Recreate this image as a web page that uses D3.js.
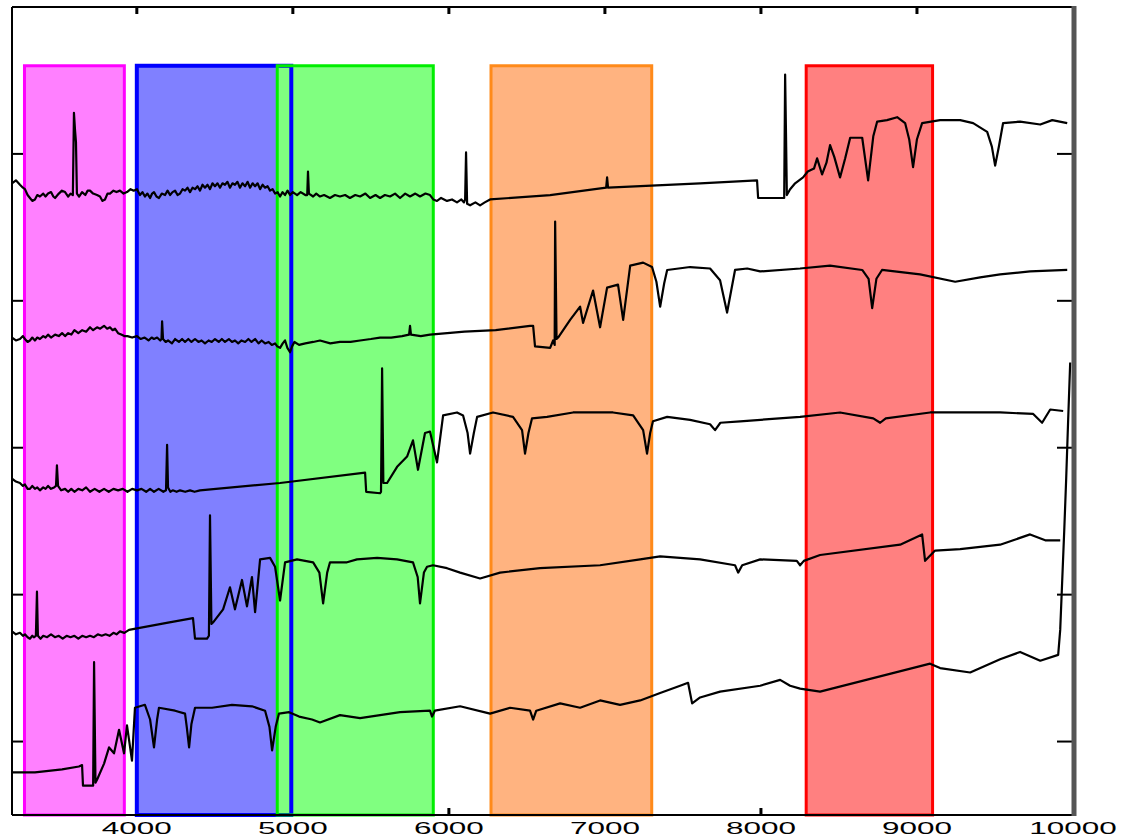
<!DOCTYPE html>
<html>
<head>
<meta charset="utf-8">
<script src="https://cdn.jsdelivr.net/npm/d3@7"></script>
<style>
html,body{margin:0;padding:0;background:#fff;}
svg{display:block;}
</style>
</head>
<body>
<svg id="chart" width="1121" height="839"></svg>
<script>
// ---------- data ----------
const xTicks = [4000, 5000, 6000, 7000, 8000, 9000, 10000];
const yTicks = [1, 2, 3, 4, 5];

const bandStarts = [3280, 4000, 4900, 6270, 8290];
const bandEnds   = [3920, 4990, 5900, 7300, 9100];
const bandTop = 5.6;

const spectrum1 = [
[3200,4.80],[3225,4.82],[3251,4.79],[3270,4.77],[3283,4.76],[3300,4.72],[3315,4.70],[3330,4.68],
[3347,4.69],[3362,4.72],[3379,4.71],[3400,4.73],[3415,4.71],[3431,4.73],[3450,4.74],[3465,4.71],
[3476,4.70],[3500,4.73],[3520,4.75],[3540,4.74],[3560,4.71],[3575,4.73],[3590,4.72],[3597,5.28],
[3604,5.16],[3610,5.08],[3616,4.73],[3630,4.71],[3649,4.74],[3670,4.72],[3685,4.75],[3700,4.75],
[3720,4.73],[3745,4.72],[3764,4.71],[3780,4.68],[3796,4.69],[3812,4.73],[3828,4.73],[3850,4.75],
[3870,4.74],[3892,4.75],[3915,4.73],[3937,4.74],[3960,4.76],[3980,4.75],[4001,4.76],[4020,4.72],
[4036,4.74],[4052,4.71],[4068,4.73],[4085,4.70],[4098,4.73],[4110,4.74],[4126,4.71],[4142,4.70],
[4160,4.73],[4181,4.72],[4197,4.75],[4213,4.72],[4229,4.74],[4245,4.75],[4261,4.72],[4277,4.73],
[4293,4.76],[4309,4.75],[4325,4.77],[4341,4.74],[4357,4.77],[4373,4.76],[4389,4.78],[4405,4.75],
[4421,4.79],[4437,4.77],[4453,4.79],[4469,4.76],[4485,4.80],[4501,4.78],[4517,4.80],[4533,4.77],
[4549,4.80],[4565,4.79],[4581,4.81],[4597,4.77],[4613,4.80],[4629,4.79],[4645,4.81],[4661,4.77],
[4677,4.80],[4694,4.78],[4710,4.81],[4726,4.77],[4742,4.80],[4758,4.78],[4774,4.80],[4790,4.76],
[4806,4.79],[4822,4.77],[4838,4.78],[4854,4.75],[4870,4.76],[4886,4.73],[4902,4.74],[4918,4.71],
[4934,4.74],[4950,4.72],[4966,4.75],[4982,4.72],[5000,4.74],[5027,4.72],[5050,4.74],[5080,4.72],
[5092,4.72],[5097,4.88],[5103,4.73],[5130,4.71],[5150,4.73],[5174,4.71],[5200,4.72],[5238,4.70],
[5270,4.72],[5302,4.71],[5335,4.72],[5366,4.70],[5400,4.72],[5431,4.71],[5465,4.73],[5495,4.70],
[5530,4.72],[5559,4.70],[5590,4.72],[5623,4.71],[5655,4.73],[5687,4.70],[5720,4.73],[5751,4.71],
[5785,4.73],[5815,4.71],[5850,4.73],[5879,4.72],[5900,4.69],[5924,4.68],[5950,4.70],[5988,4.68],
[6020,4.69],[6052,4.67],[6080,4.69],[6097,4.67],[6104,4.69],[6110,5.01],[6117,4.66],[6136,4.65],
[6170,4.67],[6200,4.65],[6230,4.67],[6264,4.69],[6649,4.72],[7008,4.77],[7014,4.84],[7020,4.77],
[7610,4.80],[7975,4.82],[7982,4.70],[8123,4.70],[8149,4.70],[8155,5.54],[8161,5.11],[8166,4.72],
[8187,4.76],[8219,4.80],[8270,4.84],[8300,4.88],[8340,4.90],[8360,4.97],[8392,4.86],[8420,4.94],
[8443,5.06],[8470,4.98],[8507,4.84],[8540,4.97],[8572,5.11],[8649,5.11],[8687,4.82],[8720,5.12],
[8745,5.22],[8808,5.23],[8873,5.25],[8924,5.21],[8950,5.10],[8975,4.91],[9000,5.10],[9033,5.21],
[9148,5.23],[9277,5.23],[9360,5.21],[9450,5.15],[9480,5.05],[9501,4.92],[9525,5.05],[9552,5.21],
[9661,5.22],[9790,5.20],[9867,5.23],[9963,5.21]
];

const spectrum2 = [
[3200,3.75],[3225,3.73],[3251,3.74],[3270,3.76],[3283,3.74],[3300,3.72],[3315,3.73],[3330,3.75],
[3347,3.73],[3362,3.75],[3379,3.74],[3400,3.76],[3415,3.75],[3431,3.77],[3450,3.75],[3476,3.77],
[3500,3.76],[3521,3.78],[3540,3.76],[3560,3.78],[3580,3.77],[3600,3.80],[3625,3.78],[3650,3.80],
[3675,3.79],[3700,3.82],[3720,3.80],[3745,3.82],[3765,3.81],[3790,3.83],[3810,3.81],[3828,3.82],
[3845,3.80],[3860,3.81],[3880,3.78],[3900,3.77],[3920,3.76],[3940,3.76],[3970,3.75],[4001,3.76],
[4025,3.74],[4050,3.75],[4075,3.73],[4095,3.75],[4110,3.74],[4130,3.75],[4150,3.73],[4158,3.74],
[4162,3.86],[4168,3.74],[4185,3.72],[4200,3.73],[4225,3.71],[4245,3.74],[4270,3.72],[4290,3.74],
[4309,3.72],[4330,3.74],[4350,3.72],[4373,3.74],[4395,3.72],[4415,3.73],[4437,3.71],[4460,3.73],
[4480,3.72],[4501,3.74],[4525,3.72],[4545,3.74],[4565,3.72],[4590,3.74],[4610,3.72],[4629,3.73],
[4650,3.71],[4670,3.73],[4694,3.72],[4715,3.74],[4735,3.72],[4758,3.74],[4780,3.71],[4800,3.73],
[4822,3.71],[4845,3.72],[4865,3.70],[4886,3.71],[4900,3.69],[4918,3.68],[4935,3.71],[4950,3.73],
[4965,3.68],[4982,3.65],[4995,3.69],[5010,3.72],[5040,3.70],[5080,3.71],[5130,3.72],[5174,3.73],
[5240,3.71],[5302,3.72],[5370,3.72],[5431,3.73],[5500,3.74],[5559,3.75],[5630,3.75],[5700,3.76],
[5745,3.77],[5751,3.83],[5757,3.77],[5820,3.76],[5879,3.77],[6100,3.79],[6300,3.80],[6520,3.83],
[6540,3.83],[6552,3.69],[6649,3.68],[6668,3.73],[6678,3.70],[6681,4.54],[6690,3.74],[6700,3.75],
[6777,3.87],[6841,3.96],[6860,3.85],[6924,4.07],[6969,3.82],[7014,4.09],[7084,4.11],[7117,3.87],
[7162,4.24],[7245,4.26],[7302,4.23],[7330,4.13],[7354,3.96],[7380,4.12],[7399,4.21],[7546,4.23],
[7674,4.22],[7738,4.14],[7783,3.92],[7834,4.21],[7912,4.22],[7995,4.20],[8251,4.22],[8443,4.24],
[8649,4.21],[8690,4.15],[8713,3.95],[8740,4.15],[8776,4.21],[9020,4.18],[9245,4.13],[9405,4.16],
[9533,4.18],[9725,4.20],[9963,4.21]
];

const spectrum3 = [
[3200,2.79],[3225,2.77],[3251,2.76],[3270,2.74],[3283,2.75],[3300,2.72],[3315,2.72],[3330,2.74],
[3347,2.72],[3362,2.73],[3379,2.71],[3400,2.73],[3415,2.72],[3431,2.74],[3450,2.72],[3470,2.73],
[3482,2.74],[3488,2.88],[3495,2.74],[3515,2.71],[3540,2.72],[3560,2.70],[3580,2.72],[3600,2.70],
[3625,2.72],[3650,2.71],[3675,2.73],[3700,2.70],[3730,2.72],[3760,2.70],[3790,2.72],[3820,2.70],
[3850,2.72],[3880,2.71],[3910,2.72],[3940,2.70],[3970,2.72],[4001,2.71],[4030,2.72],[4060,2.70],
[4085,2.72],[4110,2.70],[4140,2.72],[4170,2.70],[4187,2.71],[4194,3.02],[4200,2.73],[4215,2.70],
[4230,2.71],[4255,2.70],[4277,2.71],[4310,2.70],[4341,2.71],[4370,2.70],[4405,2.71],[4918,2.76],
[5463,2.83],[5470,2.70],[5559,2.69],[5565,2.70],[5572,3.54],[5580,2.76],[5604,2.76],[5668,2.87],
[5732,2.94],[5770,3.05],[5802,2.85],[5847,3.10],[5879,3.11],[5924,2.90],[5963,3.22],[6052,3.24],
[6091,3.22],[6120,3.10],[6136,2.96],[6160,3.10],[6181,3.21],[6283,3.24],[6411,3.21],[6469,3.12],
[6488,2.96],[6510,3.10],[6533,3.20],[6629,3.21],[6796,3.24],[6905,3.24],[7052,3.24],[7181,3.22],
[7245,3.12],[7270,2.96],[7290,3.10],[7308,3.18],[7399,3.21],[7546,3.19],[7674,3.16],[7706,3.12],
[7740,3.17],[7867,3.18],[8251,3.21],[8507,3.24],[8720,3.20],[8764,3.17],[8800,3.20],[9084,3.24],
[9533,3.24],[9745,3.23],[9802,3.17],[9854,3.26],[9937,3.25]
];

const spectrum4 = [
[3200,1.75],[3225,1.73],[3251,1.74],[3270,1.72],[3283,1.73],[3300,1.71],[3315,1.70],[3330,1.72],
[3340,1.71],[3353,1.72],[3360,2.02],[3366,1.72],[3383,1.70],[3400,1.72],[3425,1.71],[3450,1.73],
[3475,1.71],[3500,1.72],[3525,1.70],[3550,1.72],[3575,1.71],[3600,1.72],[3625,1.70],[3650,1.72],
[3675,1.71],[3700,1.72],[3725,1.71],[3750,1.73],[3775,1.72],[3800,1.73],[3825,1.72],[3850,1.74],
[3870,1.73],[3892,1.75],[3920,1.74],[3950,1.76],[4001,1.77],[4200,1.81],[4360,1.84],[4373,1.70],
[4450,1.70],[4462,1.72],[4469,2.54],[4478,1.80],[4488,1.81],[4553,1.90],[4597,2.05],[4629,1.90],
[4674,2.10],[4706,1.92],[4738,2.12],[4758,1.88],[4790,2.24],[4854,2.25],[4886,2.19],[4918,1.96],
[4950,2.22],[5027,2.24],[5130,2.22],[5170,2.15],[5194,1.94],[5220,2.15],[5238,2.22],[5347,2.22],
[5411,2.24],[5540,2.25],[5668,2.24],[5770,2.22],[5800,2.12],[5815,1.94],[5840,2.15],[5860,2.19],
[5898,2.20],[5988,2.18],[6072,2.15],[6200,2.11],[6328,2.15],[6584,2.18],[6969,2.20],[7226,2.24],
[7354,2.26],[7610,2.24],[7834,2.20],[7854,2.15],[7880,2.20],[7995,2.24],[8230,2.23],[8251,2.20],
[8275,2.23],[8379,2.27],[8892,2.34],[9033,2.41],[9052,2.23],[9116,2.30],[9277,2.31],[9533,2.34],
[9725,2.41],[9822,2.37],[9918,2.37]
];

const spectrum5 = [
[3200,0.79],[3347,0.79],[3521,0.81],[3629,0.83],[3649,0.84],[3655,0.70],[3720,0.70],[3726,1.54],
[3735,0.72],[3745,0.74],[3790,0.85],[3822,0.96],[3854,0.92],[3886,1.08],[3918,0.92],[3937,1.11],
[3969,0.87],[3988,1.23],[4052,1.25],[4085,1.15],[4110,0.96],[4130,1.15],[4142,1.23],[4245,1.21],
[4309,1.19],[4320,1.10],[4335,0.96],[4350,1.12],[4373,1.23],[4482,1.23],[4610,1.25],[4738,1.24],
[4822,1.21],[4850,1.10],[4867,0.94],[4890,1.10],[4911,1.19],[4976,1.20],[5040,1.17],[5123,1.15],
[5174,1.13],[5302,1.18],[5431,1.16],[5687,1.20],[5879,1.21],[5892,1.17],[5910,1.21],[6072,1.24],
[6264,1.19],[6392,1.23],[6520,1.21],[6540,1.15],[6560,1.21],[6713,1.26],[6841,1.23],[6969,1.28],
[7097,1.25],[7226,1.28],[7354,1.33],[7482,1.38],[7533,1.40],[7559,1.26],[7610,1.30],[7738,1.34],
[7995,1.38],[8123,1.42],[8187,1.38],[8251,1.36],[8379,1.34],[9084,1.53],[9148,1.50],[9341,1.47],
[9533,1.56],[9661,1.61],[9790,1.55],[9905,1.59],[9918,1.76],[9931,2.10],[9944,2.44],[9956,2.78],
[9969,3.19],[9982,3.58]
];

// ---------- styles ----------
const bandFills   = ["#ff80ff", "#8080ff", "#80ff80", "#ffb380", "#ff8080"];
const bandStrokes = ["#ff00ff", "#0000ff", "#00ee00", "#ff8a1a", "#ff0000"];

// ---------- drawing ----------
const svg = d3.select("#chart");
const x = d3.scaleLinear().domain([3200, 10000]).range([12, 1073]);
const y = d3.scaleLinear().domain([0.5, 6]).range([815, 7]);

// ticks (under bands)
const tickG = svg.append("g").attr("stroke", "#000").attr("stroke-width", 2);
tickG.selectAll("line.yl").data(yTicks).join("line")
  .attr("x1", x(3200)).attr("x2", x(3200) + 16)
  .attr("y1", d => y(d)).attr("y2", d => y(d));
tickG.selectAll("line.yr").data(yTicks).join("line")
  .attr("x1", x(10000) - 16).attr("x2", x(10000))
  .attr("y1", d => y(d)).attr("y2", d => y(d));
tickG.selectAll("line.xt").data(xTicks.slice(0, -1)).join("line")
  .attr("x1", d => x(d)).attr("x2", d => x(d))
  .attr("y1", y(6)).attr("y2", y(6) + 7).attr("stroke-width", 3);
tickG.selectAll("line.xb").data(xTicks.slice(0, -1)).join("line")
  .attr("x1", d => x(d)).attr("x2", d => x(d))
  .attr("y1", y(0.5)).attr("y2", y(0.5) - 7).attr("stroke-width", 3);

// band fills
const bandIdx = d3.range(bandStarts.length);
svg.append("g").selectAll("rect").data(bandIdx).join("rect")
  .attr("x", i => x(bandStarts[i]))
  .attr("y", y(bandTop))
  .attr("width", i => x(bandEnds[i]) - x(bandStarts[i]))
  .attr("height", y(0.5) - y(bandTop))
  .attr("fill", i => bandFills[i]);
// band outlines
svg.append("g").selectAll("rect").data(bandIdx).join("rect")
  .attr("x", i => x(bandStarts[i]))
  .attr("y", y(bandTop))
  .attr("width", i => x(bandEnds[i]) - x(bandStarts[i]))
  .attr("height", y(0.5) - y(bandTop))
  .attr("fill", "none")
  .attr("stroke", i => bandStrokes[i])
  .attr("stroke-width", i => i === 1 ? 4 : 3);

// spectra
const line = d3.line().x(d => x(d[0])).y(d => y(d[1]));
const spectra = [spectrum1, spectrum2, spectrum3, spectrum4, spectrum5];
svg.append("g").selectAll("path").data(spectra).join("path")
  .attr("d", line)
  .attr("fill", "none")
  .attr("stroke", "#000")
  .attr("stroke-width", 2.2)
  .attr("stroke-linejoin", "round");

// frame
svg.append("line").attr("x1", x(3200)).attr("x2", x(3200)).attr("y1", y(6)).attr("y2", y(0.5))
  .attr("stroke", "#000").attr("stroke-width", 2);
svg.append("line").attr("x1", x(3200)).attr("x2", x(10000)).attr("y1", y(6)).attr("y2", y(6))
  .attr("stroke", "#000").attr("stroke-width", 2);
svg.append("line").attr("x1", x(3200)).attr("x2", x(10000)).attr("y1", y(0.5)).attr("y2", y(0.5))
  .attr("stroke", "#000").attr("stroke-width", 2);
svg.append("line").attr("x1", x(10000) + 1).attr("x2", x(10000) + 1).attr("y1", y(6) - 1).attr("y2", y(0.5) + 1)
  .attr("stroke", "#555").attr("stroke-width", 5);

// tick labels (horizontally stretched like the reference)
svg.append("g").selectAll("text").data(xTicks).join("text")
  .attr("transform", d => `translate(${x(d)},834) scale(1.85,1)`)
  .attr("text-anchor", "middle")
  .attr("font-family", "'Liberation Sans', Arial, sans-serif")
  .attr("font-size", 17)
  .attr("fill", "#000")
  .text(d => d);
</script>
</body>
</html>
